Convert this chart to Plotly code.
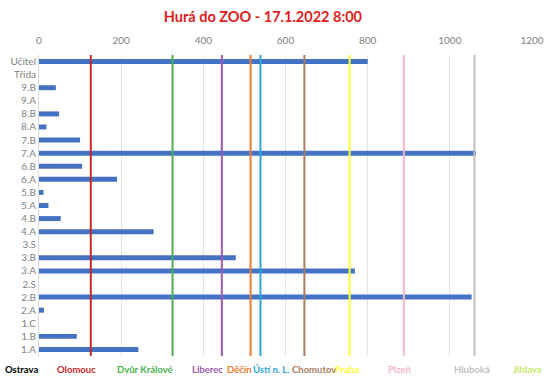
import plotly.graph_objects as go

categories = ["Učitel", "Třída", "9.B", "9.A", "8.B", "8.A", "7.B", "7.A", "6.B", "6.A",
              "5.B", "5.A", "4.B", "4.A", "3.S", "3.B", "3.A", "2.S", "2.B", "2.A",
              "1.C", "1.B", "1.A"]
values = [800, 0, 41, 0, 49, 18, 100, 1063, 105, 190,
          11, 23, 53, 279, 0, 479, 769, 0, 1053, 12,
          0, 92, 242]

cities = ["Ostrava", "Olomouc", "Dvůr Králové", "Liberec", "Děčín", "Ústí n. L.",
          "Chomutov", "Praha", "Plzeň", "Hluboká", "Jihlava"]
city_values = [None, 126, 325, 445, 515, 539, 646, 756, 888, 1060, None]
city_label_x = [-43, 91, 257, 409, 487, 566, 669, 750, 878, 1054, 1189]
city_colors = ["#000000", "#C62828", "#4CAF50", "#9B59B6", "#ED7D31", "#29A8DE",
               "#A97C62", "#FFFF33", "#F4B6C8", "#BFBFBF", "#C5E86C"]

X_MAX = 1200

fig = go.Figure()
fig.add_trace(go.Bar(
    y=categories, x=values, orientation="h",
    marker=dict(color="#4472C4", line=dict(width=0)),
    showlegend=False, hoverinfo="x+y",
))

for name, v, lx, c in zip(cities, city_values, city_label_x, city_colors):
    if v is not None:
        fig.add_shape(type="line", xref="x", yref="paper", x0=v, x1=v, y0=0, y1=1,
                      line=dict(color=c, width=2), layer="above")
    fig.add_annotation(x=lx / X_MAX, xref="paper", y=-0.045, yref="paper",
                       text=f"<b>{name}</b>",
                       showarrow=False, font=dict(color=c, size=9.5, family="Lato"),
                       xanchor="center", yanchor="middle")

fig.update_layout(
    width=550, height=383,
    margin=dict(l=39, r=18, t=55, b=27, autoexpand=False),
    paper_bgcolor="white", plot_bgcolor="white",
    bargap=0.62,
    title=dict(text="<b>Hurá do ZOO - 17.1.2022 8:00</b>", x=0.478, xanchor="center",
               y=0.956, yanchor="middle",
               font=dict(color="#E31B1B", size=14.5, family="Lato")),
    font=dict(family="Lato", color="#7F7F7F", size=10),
    xaxis=dict(side="top", range=[0, X_MAX], dtick=200, showgrid=True,
               gridcolor="#E3E3E3", gridwidth=1, zeroline=False, automargin=False,
               tickfont=dict(size=10, color="#7F7F7F"), ticks="", showline=False,
               ticklabelstandoff=8),
    yaxis=dict(categoryorder="array", categoryarray=categories[::-1],
               autorange=True, showgrid=False, ticks="", automargin=False,
               showline=True, linecolor="#D9D9D9", linewidth=1,
               tickfont=dict(size=10, color="#7F7F7F")),
)

fig.write_html("out.html", config={"displayModeBar": False},
               post_script="document.body.style.margin='0';")
